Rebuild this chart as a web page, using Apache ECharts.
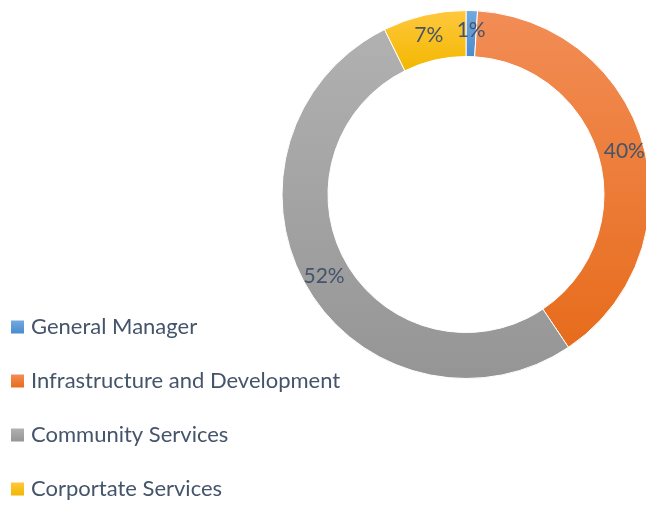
<!DOCTYPE html>
<html>
<head>
<meta charset="utf-8">
<script src="https://cdn.jsdelivr.net/npm/echarts@6/dist/echarts.min.js"></script>
<style>
  html, body { margin: 0; padding: 0; background: #fff; }
  #chart { width: 646px; height: 505px; }
</style>
</head>
<body>
<div id="chart"></div>
<script>
  // departments and their share of the total
  var categories = ['General Manager', 'Infrastructure and Development', 'Community Services', 'Corportate Services']
  var values = [1.0, 39.6, 52.1, 7.3]
  // top / bottom gradient colours for each slice
  var topColors = ['#73A9DE', '#F28D56', '#B1B1B1', '#FFC83D']
  var bottomColors = ['#4A8BCF', '#E76C1C', '#959595', '#F2B700']

  function grad(i) {
    return new echarts.graphic.LinearGradient(0, 0, 0, 1, [
      { offset: 0, color: topColors[i] },
      { offset: 1, color: bottomColors[i] }
    ])
  }

  var data = categories.map(function (name, i) {
    return { name: name, value: values[i], itemStyle: { color: grad(i) } }
  })

  var myChart = echarts.init(document.getElementById('chart'), null, { width: 646, height: 505 })
  myChart.setOption({
    animation: false,
    legend: {
      orient: 'vertical',
      left: 11,
      top: 316,
      height: 300,
      padding: 0,
      itemWidth: 13,
      itemHeight: 13,
      itemGap: 32,
      icon: 'rect',
      itemStyle: { borderWidth: 0 },
      textStyle: {
        fontFamily: 'Lato',
        fontSize: 22,
        color: '#44546A',
        padding: [0, 0, 0, 2]
      },
      data: categories
    },
    series: [{
      type: 'pie',
      center: [466, 194.5],
      radius: [138, 184],
      startAngle: 90,
      clockwise: true,
      avoidLabelOverlap: false,
      itemStyle: { borderColor: '#fff', borderWidth: 1 },
      label: {
        show: true,
        position: 'inside',
        fontFamily: 'Lato',
        fontSize: 21,
        color: '#44546A',
        formatter: function (p) { return Math.round(p.percent) + '%' }
      },
      labelLine: { show: false },
      emphasis: { disabled: true },
      data: data
    }]
  })
</script>
</body>
</html>
